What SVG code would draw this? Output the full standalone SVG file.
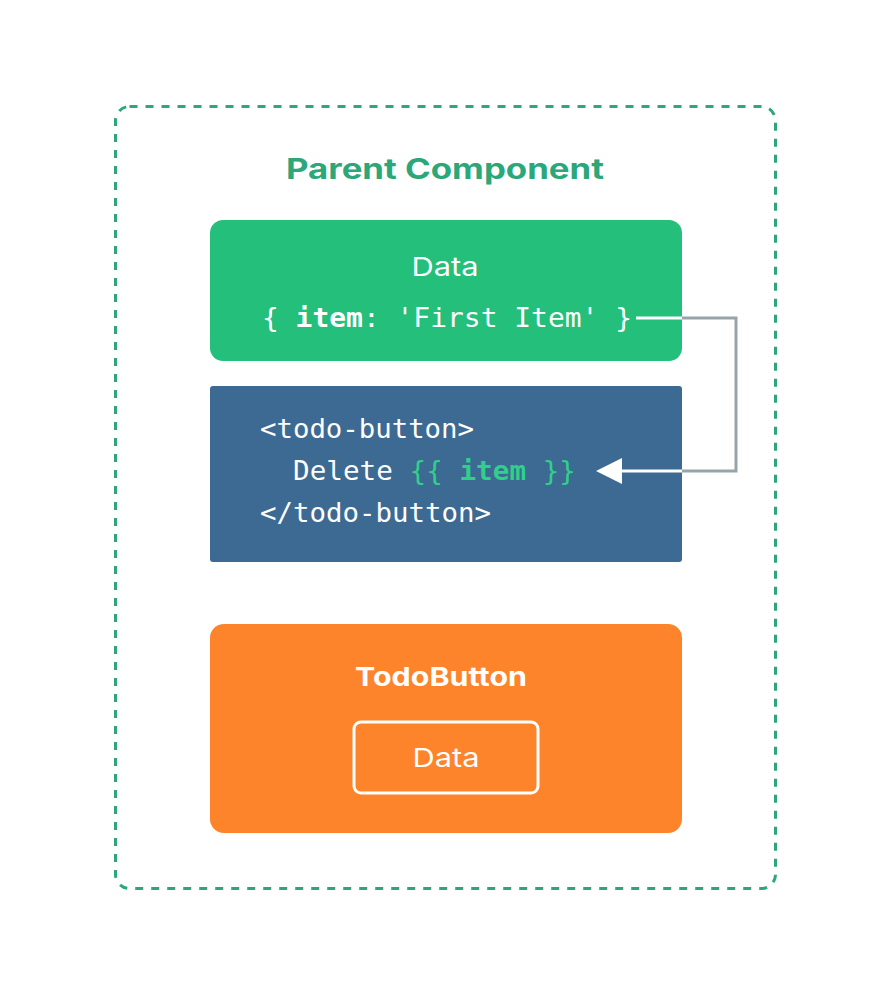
<svg xmlns="http://www.w3.org/2000/svg" width="894" height="996" viewBox="0 0 894 996">
<style>
.sans{font-family:Inter,"Noto Sans","Liberation Sans",sans-serif}
.mono{font-family:"DejaVu Sans Mono","Liberation Mono",monospace;font-size:27px}
.w{fill:#ffffff}
</style>
<defs>
<marker id="ah" viewBox="0 0 10 10" refX="0" refY="5" markerWidth="26" markerHeight="26" markerUnits="userSpaceOnUse" orient="auto">
<path d="M0,0 L10,5 L0,10 Z" fill="#ffffff"/>
</marker>
</defs>
<rect width="894" height="996" fill="#ffffff"/>
<g id="parent">
<rect x="115.5" y="106.5" width="660" height="782" rx="14" fill="none" stroke="#2ba77a" stroke-width="3" stroke-dasharray="8 8"/>
<text class="sans" x="445" y="179" text-anchor="middle" font-size="28" font-weight="700" fill="#2ba77a" textLength="318" lengthAdjust="spacingAndGlyphs">Parent Component</text>
</g>
<g id="data">
<rect x="210" y="220" width="472" height="141" rx="13" fill="#24bf7b"/>
<text class="sans w" x="445" y="276" text-anchor="middle" font-size="26" textLength="67" lengthAdjust="spacingAndGlyphs">Data</text>
<text class="mono w" x="262" y="327" textLength="370" lengthAdjust="spacingAndGlyphs">{ <tspan font-weight="700">item</tspan>: 'First Item' }</text>
</g>
<g id="template">
<rect x="210" y="386" width="472" height="176" rx="3" fill="#3d6a92"/>
<text class="mono w" x="260" y="438" textLength="214" lengthAdjust="spacingAndGlyphs">&lt;todo-button&gt;</text>
<text class="mono" x="293" y="480" fill="#ffffff" textLength="283" lengthAdjust="spacingAndGlyphs">Delete <tspan fill="#2fd08a">{{ <tspan font-weight="700">item</tspan> }}</tspan></text>
<text class="mono w" x="260" y="522" textLength="231" lengthAdjust="spacingAndGlyphs">&lt;/todo-button&gt;</text>
</g>
<g id="todobutton">
<rect x="210" y="624" width="472" height="209" rx="14" fill="#fd842a"/>
<text class="sans w" x="441" y="686" text-anchor="middle" font-size="26" font-weight="700" textLength="172" lengthAdjust="spacingAndGlyphs">TodoButton</text>
<rect x="354" y="722" width="184" height="71" rx="7" fill="none" stroke="#ffffff" stroke-width="3"/>
<text class="sans w" x="446" y="767" text-anchor="middle" font-size="26" textLength="67" lengthAdjust="spacingAndGlyphs">Data</text>
</g>
<g id="connectors" fill="none" stroke-width="3">
<path d="M636,318 H682" stroke="#ffffff"/>
<path d="M682,318 H736 V471 H682" stroke="#97a5ab"/>
<path d="M682,471 H622" stroke="#ffffff" marker-end="url(#ah)"/>
</g>
</svg>
